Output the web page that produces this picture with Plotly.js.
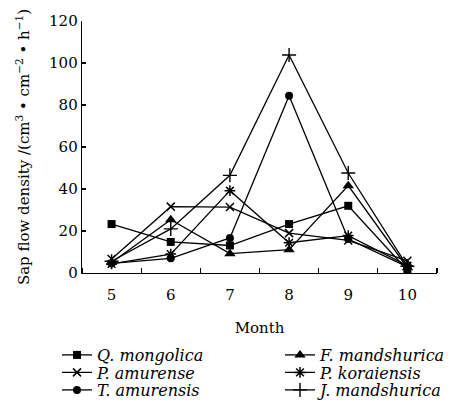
<!DOCTYPE html>
<html>
<head>
<meta charset="utf-8">
<script src="https://cdn.plot.ly/plotly-3.0.1.min.js"></script>
<style>html,body{margin:0;padding:0;background:#fff}#chart{width:455px;height:410px}</style>
</head>
<body>
<div id="chart"></div>
<script>
const months = [5, 6, 7, 8, 9, 10];
const qMongolica   = [23.3, 14.8, 13.1, 23.3, 32.0, 1.3];
const fMandshurica = [5.0, 25.4, 9.2, 11.1, 41.6, 2.5];
const pAmurense    = [6.7, 31.6, 31.4, 19.0, 15.5, 5.8];
const pKoraiensis  = [4.3, 9.0, 39.2, 14.4, 17.8, 3.5];
const tAmurensis   = [4.6, 7.0, 16.7, 84.4, 16.2, 2.9];
const jMandshurica = [5.6, 21.0, 46.5, 103.8, 47.6, 3.2];
const seriesNames = ['Q. mongolica', 'F. mandshurica', 'P. amurense', 'P. koraiensis', 'T. amurensis', 'J. mandshurica'];
const yTicks = [0, 20, 40, 60, 80, 100, 120];

const values = [qMongolica, fMandshurica, pAmurense, pKoraiensis, tAmurensis, jMandshurica];
const legendIds = ['legend', 'legend2', 'legend3', 'legend4', 'legend5', 'legend6'];
const markerStyles = [
  {symbol: 'square', size: 8},
  {symbol: 'triangle-up', size: 10},
  {symbol: 'x-thin-open', size: 8, line: {width: 1.5, color: '#000'}},
  {symbol: 'asterisk-open', size: 9, line: {width: 1.5, color: '#000'}},
  {symbol: 'circle', size: 8},
  {symbol: 'cross-thin-open', size: 10, line: {width: 1.4, color: '#000'}}
];
const traces = values.map((v, i) => ({
  x: months, y: v, name: seriesNames[i], type: 'scatter', mode: 'lines+markers',
  legend: legendIds[i],
  line: {color: '#000', width: 1.3},
  marker: Object.assign({color: '#000'}, markerStyles[i])
}));

const font = {family: '"DejaVu Serif", "Liberation Serif", serif', color: '#000', size: 15};
const legFont = Object.assign({}, font, {style: 'italic', size: 16});
const colX = [57, 280];
const rowY = [355, 372.5, 390];
function legendAt(i) {
  return {
    orientation: 'h', xref: 'container', yref: 'container',
    x: colX[i % 2] / 455, y: 1 - rowY[Math.floor(i / 2)] / 410, xanchor: 'left', yanchor: 'middle',
    itemwidth: 30, font: legFont, bgcolor: 'rgba(0,0,0,0)', borderwidth: 0
  };
}
const layout = {
  width: 455, height: 410,
  margin: {l: 82, r: 18, t: 21, b: 137, autoexpand: false},
  paper_bgcolor: '#fff', plot_bgcolor: '#fff',
  font: font,
  showlegend: true,
  xaxis: {
    range: [4.5, 10.5], tickvals: months, ticktext: months.map(String),
    ticks: '', showgrid: false, zeroline: false, ticklabelstandoff: 8,
    showline: true, linecolor: '#000', linewidth: 1.3,
    minor: {tickmode: 'linear', tick0: 4.5, dtick: 1, ticks: 'inside', ticklen: 5, tickcolor: '#000', tickwidth: 1.3, showgrid: false},
    title: {text: 'Month', font: font, standoff: 19},
    fixedrange: true
  },
  yaxis: {
    range: [0, 120], tickvals: yTicks, ticks: 'inside', ticklen: 4, tickwidth: 1.3, tickcolor: '#000',
    showgrid: false, zeroline: false, showline: true, linecolor: '#000', linewidth: 1.3,
    title: {text: 'Sap flow density /(cm<sup>3</sup> • cm<sup>−2</sup> • h<sup>−1</sup>)', font: font, standoff: 15},
    fixedrange: true
  }
};
legendIds.forEach((id, i) => { layout[id] = legendAt(i); });
Plotly.newPlot('chart', traces, layout, {displayModeBar: false, staticPlot: true});
</script>
</body>
</html>
